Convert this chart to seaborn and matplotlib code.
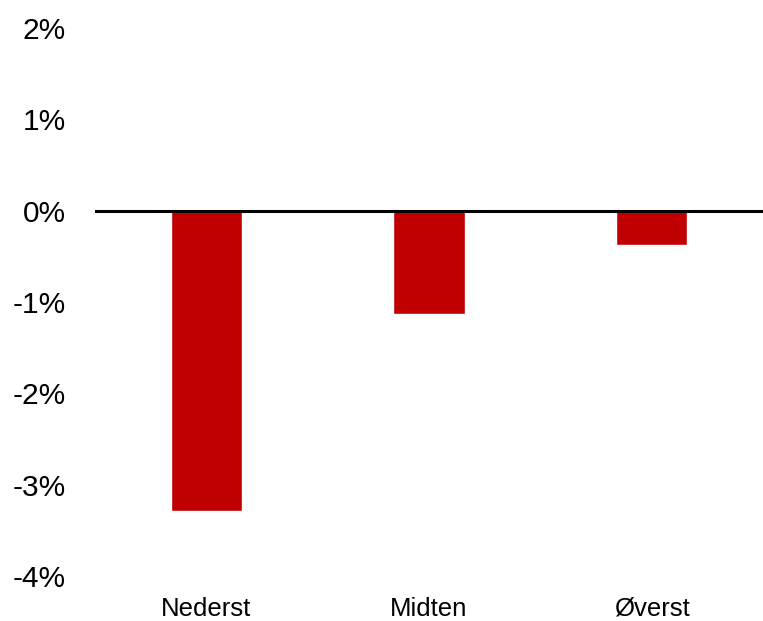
import matplotlib
matplotlib.use("Agg")
import matplotlib.pyplot as plt
import seaborn as sns
import pandas as pd
from matplotlib.ticker import FuncFormatter

# data (percent change)
groups = ["Nederst", "Midten", "Øverst"]
change_pct = [-3.29, -1.13, -0.38]
y_ticks = [-4, -3, -2, -1, 0, 1, 2]

df = pd.DataFrame({"Gruppe": groups, "Endring": change_pct})

sns.set_style("white")
plt.rcParams["font.family"] = ["Liberation Sans", "DejaVu Sans"]

fig = plt.figure(figsize=(7.63, 6.21), dpi=100)
ax = fig.add_axes([95 / 763, 1 - 576 / 621, 1 - 95 / 763, (576 - 28) / 621])

sns.barplot(data=df, x="Gruppe", y="Endring", color="#C00000", width=0.32,
            saturation=1, ax=ax)

ax.axhline(0, color="black", lw=2.2, zorder=3)

ax.set_xlim(-0.5, 2.5)
ax.set_ylim(-4, 2)
ax.set_yticks(y_ticks)
ax.yaxis.set_major_formatter(FuncFormatter(lambda v, p: f"{v:.0f}%"))
ax.tick_params(axis="y", length=0, pad=21, labelsize=21.5, labelcolor="black")
ax.tick_params(axis="x", length=0, pad=15, labelsize=18.5, labelcolor="black")
ax.set_xlabel("")
ax.set_ylabel("")
for s in ax.spines.values():
    s.set_visible(False)

fig.savefig("out.png", dpi=100)
